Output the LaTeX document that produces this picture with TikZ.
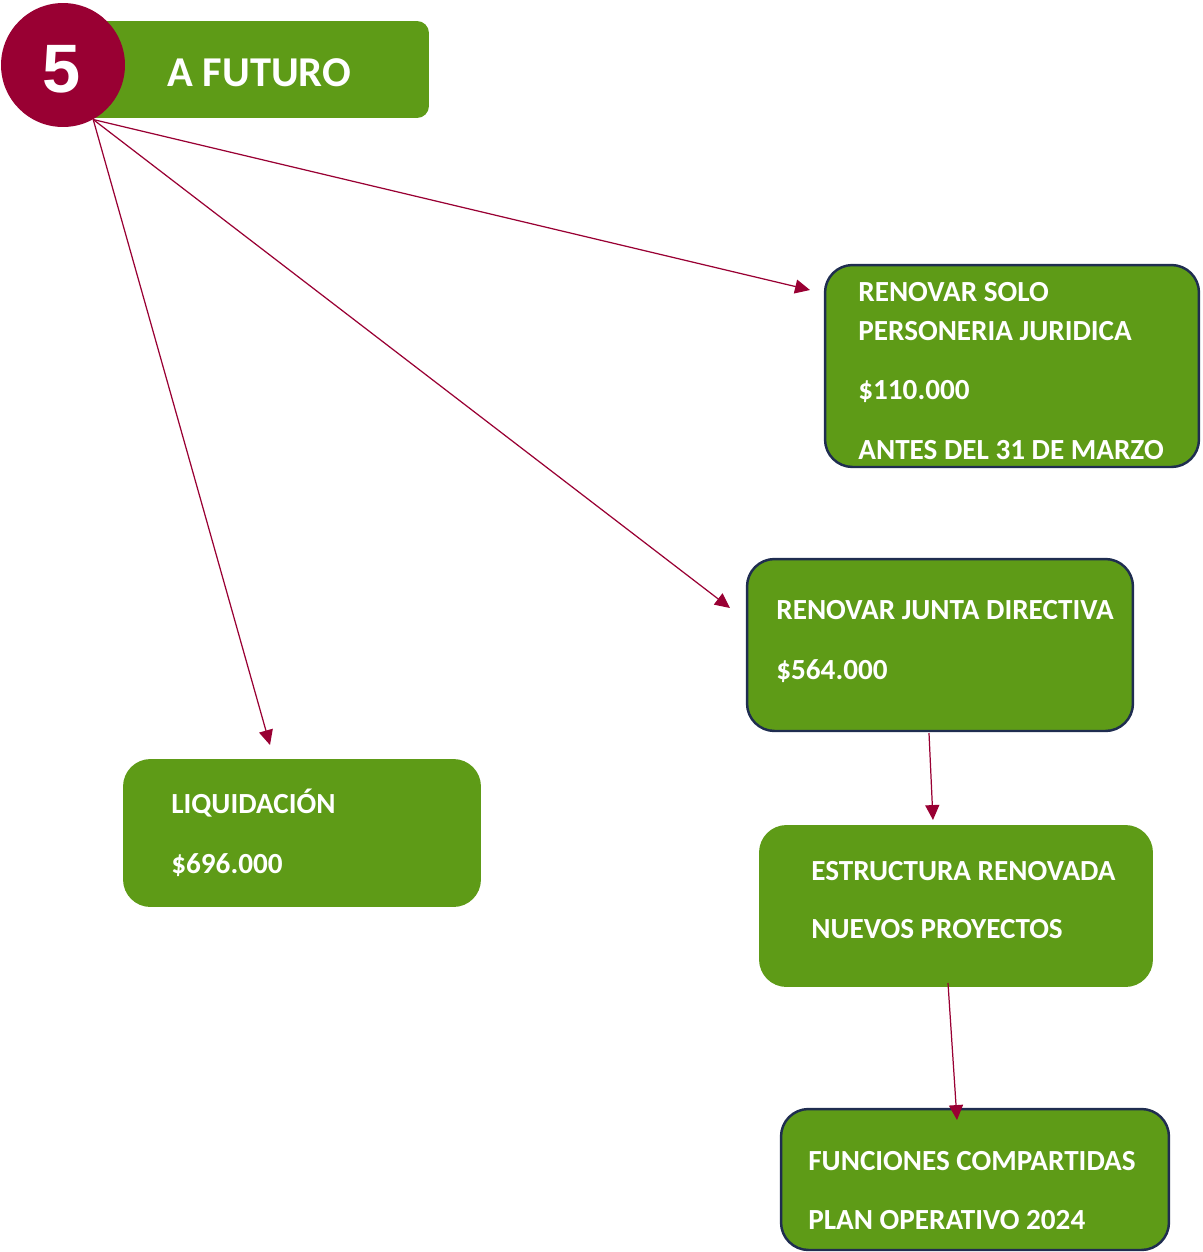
\documentclass[tikz,border=0pt]{standalone}
\usepackage{fontspec}
\setmainfont{Carlito}
\newfontfamily\numfont{Liberation Sans}
\usetikzlibrary{arrows.meta}
\definecolor{hojaverde}{HTML}{5E9B17}
\definecolor{vino}{HTML}{990033}
\definecolor{marino}{HTML}{1F2D50}
\begin{document}
\begin{tikzpicture}[x=0.02cm,y=-0.02cm,
  caja/.style={rectangle,rounded corners=0.55cm,fill=hojaverde,inner sep=0pt},
  borde/.style={draw=marino,line width=1.4pt},
  txt/.style={anchor=base west,inner sep=0pt,text=white,font=\bfseries\fontsize{16.6}{19}\selectfont},
  flecha/.style={draw=vino,line width=0.7pt,-{Triangle[length=8.5pt,width=8pt]}}]
\useasboundingbox (0,0) rectangle (1203,1252);
\node[caja,rounded corners=0.24cm,minimum width=7.38cm,minimum height=1.94cm] (barra) at (244.5,69.5) {};
\node[circle,fill=vino,minimum size=2.48cm,inner sep=0pt] (circ) at (63,65) {};
\node[anchor=base,inner sep=0pt,text=white,font=\numfont\bfseries\fontsize{39}{42}\selectfont] (num) at (62,92) {5};
\node[txt,font=\bfseries\fontsize{24.2}{28}\selectfont] (titulo) at (167,86) {A FUTURO};
\node[caja,borde,minimum width=7.48cm,minimum height=4.04cm] (renovar) at (1012,366) {};
\node[caja,borde,minimum width=7.72cm,minimum height=3.44cm] (junta) at (940,645) {};
\node[caja,minimum width=7.88cm,minimum height=3.24cm] (estructura) at (956,906) {};
\node[caja,borde,minimum width=7.76cm,minimum height=2.82cm] (funciones) at (975,1179.5) {};
\node[caja,minimum width=7.16cm,minimum height=2.96cm] (liquida) at (302,833) {};
\node[txt] (r1) at (858,301) {RENOVAR SOLO};
\node[txt] (r2) at (858,340) {PERSONERIA JURIDICA};
\node[txt] (r3) at (858,399) {\$110.000};
\node[txt] (r4) at (858,459) {ANTES DEL 31 DE MARZO};
\node[txt] (j1) at (776,619) {RENOVAR JUNTA DIRECTIVA};
\node[txt] (j2) at (776,679) {\$564.000};
\node[txt] (e1) at (811,880) {ESTRUCTURA RENOVADA};
\node[txt] (e2) at (811,938) {NUEVOS PROYECTOS};
\node[txt] (f1) at (808,1170) {FUNCIONES COMPARTIDAS};
\node[txt] (f2) at (808,1229) {PLAN OPERATIVO 2024};
\node[txt] (l1) at (171,813) {LIQUIDACIÓN};
\node[txt] (l2) at (171,873) {\$696.000};
\coordinate (p1) at (810,290);
\coordinate (p2) at (730,608);
\coordinate (p3) at (270,745);
\coordinate (s4) at (929,733);
\coordinate (p4) at (933,820);
\coordinate (s5) at (948,983);
\coordinate (p5) at (957,1120);
\draw[flecha] (circ.-61) -- (p1);
\draw[flecha] (circ.-61) -- (p2);
\draw[flecha] (circ.-61) -- (p3);
\draw[flecha] (s4) -- (p4);
\draw[flecha] (s5) -- (p5);
\end{tikzpicture}
\end{document}
